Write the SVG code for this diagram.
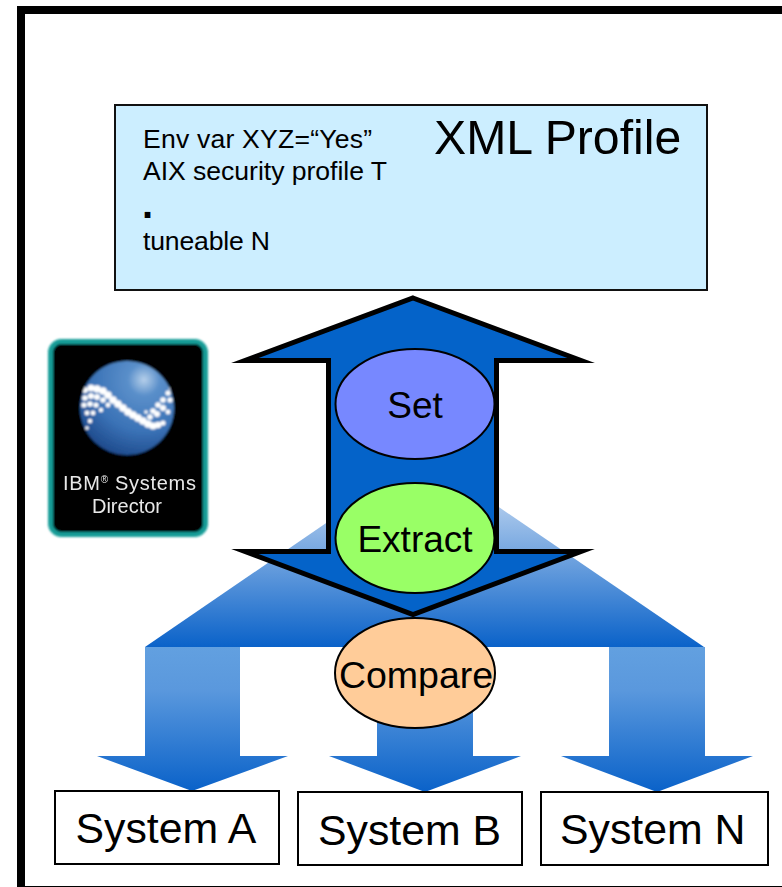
<svg xmlns="http://www.w3.org/2000/svg" width="782" height="887" viewBox="0 0 782 887">
<style>
text{font-family:"Liberation Sans",Arial,sans-serif;fill:#000}
.sys{fill:#fff;stroke:#000;stroke-width:2}
.oval{stroke:#000;stroke-width:2}
.lbl{text-anchor:middle;font-size:37px}
.systxt{font-size:42.8px}
.pr{font-size:26.6px}
.bead{fill:#fff}
.down{fill:url(#gA)}
.fr{fill:#000}
</style>
<defs>
<linearGradient id="gT" gradientUnits="userSpaceOnUse" x1="0" y1="456" x2="0" y2="647"><stop offset="0" stop-color="#e4edf8"/><stop offset="1" stop-color="#0a62c9"/></linearGradient>
<linearGradient id="gA" x1="0" y1="0" x2="0" y2="1"><stop offset="0" stop-color="#62a0e0"/><stop offset="0.3" stop-color="#5a98dd"/><stop offset="1" stop-color="#0a62c9"/></linearGradient>
<radialGradient id="gG" cx="0.68" cy="0.2" r="0.85"><stop offset="0" stop-color="#b5cfea"/><stop offset="0.2" stop-color="#5a8fca"/><stop offset="0.65" stop-color="#3a72b6"/><stop offset="1" stop-color="#1e4a8c"/></radialGradient>
<clipPath id="cG"><circle cx="127" cy="408" r="47"/></clipPath>
<filter id="soft" x="-5%" y="-5%" width="110%" height="110%"><feGaussianBlur stdDeviation="0.8"/></filter>
<filter id="softer" x="-5%" y="-5%" width="110%" height="110%"><feGaussianBlur stdDeviation="0.4"/></filter>
</defs>
<g id="frame">
<rect class="fr" x="17" y="6" width="765" height="8"/>
<rect class="fr" x="17" y="6" width="8" height="881"/>
<rect class="fr" x="25" y="886" width="757" height="1"/>
</g>
<g id="profile">
<rect x="115" y="105" width="592" height="185" fill="#cceeff" stroke="#111" stroke-width="2"/>
<text x="143" y="148" class="pr" textLength="229">Env var XYZ=“Yes”</text>
<text x="143" y="180" class="pr" textLength="244">AIX security profile T</text>
<text x="142" y="218" font-size="40" font-weight="bold">.</text>
<text x="143" y="250" class="pr" textLength="127">tuneable N</text>
<text x="434" y="154" font-size="48.2">XML Profile</text>
</g>
<g id="connectors">
<polygon points="424,456 704,647 145,647" fill="url(#gT)"/>
<polygon class="down" points="145,647 240,647 240,756 288,756 192,791 97,756 145,756"/>
<polygon class="down" points="377,647 473,647 473,756 521,756 425,792 329,756 377,756"/>
<polygon class="down" points="609,647 705,647 705,756 753,756 657,792 561,756 609,756"/>
<polygon points="413,298 581,360.5 496.5,360.5 496.5,551.5 581,551.5 413,614.5 245,551.5 328.5,551.5 328.5,360.5 245,360.5" fill="#0463c9" stroke="#000" stroke-width="5" stroke-miterlimit="10"/>
</g>
<g id="logo">
<g filter="url(#soft)">
<rect x="50.5" y="341.5" width="155" height="193" rx="11" fill="#000" stroke="#129c97" stroke-width="5"/>
<circle cx="127" cy="408" r="47" fill="url(#gG)"/>
<g clip-path="url(#cG)">
<g class="bead">
<circle cx="85" cy="390" r="3"/><circle cx="91" cy="388" r="3.4"/><circle cx="97" cy="389" r="3.8"/><circle cx="103" cy="391" r="3.8"/><circle cx="108" cy="395" r="3.8"/><circle cx="113" cy="400" r="3.8"/><circle cx="118" cy="404" r="3.8"/><circle cx="123" cy="408" r="3.8"/><circle cx="128" cy="412" r="3.8"/><circle cx="133" cy="415" r="3.8"/><circle cx="138" cy="418" r="3.8"/><circle cx="143" cy="421" r="3.8"/><circle cx="148" cy="424" r="3.8"/><circle cx="153" cy="426" r="3.6"/><circle cx="158" cy="425" r="3.2"/><circle cx="163" cy="423" r="2.6"/>
<circle cx="153" cy="411" r="2.8"/><circle cx="158" cy="405" r="2.8"/><circle cx="163" cy="400" r="2.8"/><circle cx="168" cy="393" r="2.6"/><circle cx="171" cy="388" r="2.4"/><circle cx="150" cy="417" r="2.8"/><circle cx="157" cy="414" r="3"/><circle cx="163" cy="408" r="3"/><circle cx="170" cy="400" r="2.6"/><circle cx="168" cy="412" r="2.4"/><circle cx="146" cy="412" r="1.8"/>
<circle cx="85" cy="398" r="2.8"/><circle cx="91" cy="396" r="3"/><circle cx="97" cy="397" r="3"/><circle cx="103" cy="400" r="2.8"/><circle cx="108" cy="405" r="2.4"/><circle cx="84" cy="405" r="2.6"/><circle cx="90" cy="404" r="2.8"/><circle cx="96" cy="405" r="2.6"/><circle cx="101" cy="410" r="2.2"/><circle cx="87" cy="413" r="2.4"/><circle cx="93" cy="413" r="2.4"/><circle cx="90" cy="421" r="2.2"/><circle cx="87" cy="428" r="1.8"/>
</g>
</g>
</g>
<g filter="url(#softer)">
<text x="63" y="490" font-size="20" style="fill:#e8e8e8" textLength="133">IBM<tspan font-size="10" dy="-7">®</tspan><tspan dy="7"> Systems</tspan></text>
<text x="127" y="513" text-anchor="middle" font-size="20" style="fill:#e8e8e8">Director</text>
</g>
</g>
<g id="set"><ellipse class="oval" cx="415" cy="404" rx="79.5" ry="55" fill="#7788ff"/><text class="lbl" x="415" y="418">Set</text></g>
<g id="extract"><ellipse class="oval" cx="415" cy="538" rx="79.5" ry="55" fill="#99ff66"/><text class="lbl" x="415" y="552">Extract</text></g>
<g id="compare"><ellipse class="oval" cx="415" cy="673" rx="80" ry="55" fill="#ffcc99"/><text class="lbl" x="416" y="688" style="font-size:37.5px">Compare</text></g>
<g id="systemA"><rect class="sys" x="55" y="791" width="224" height="73"/><text class="systxt" x="75.5" y="843">System A</text></g>
<g id="systemB"><rect class="sys" x="298" y="792" width="224" height="73"/><text class="systxt" x="318" y="845">System B</text></g>
<g id="systemN"><rect class="sys" x="541" y="792" width="227" height="73"/><text class="systxt" x="560" y="844">System N</text></g>
</svg>
